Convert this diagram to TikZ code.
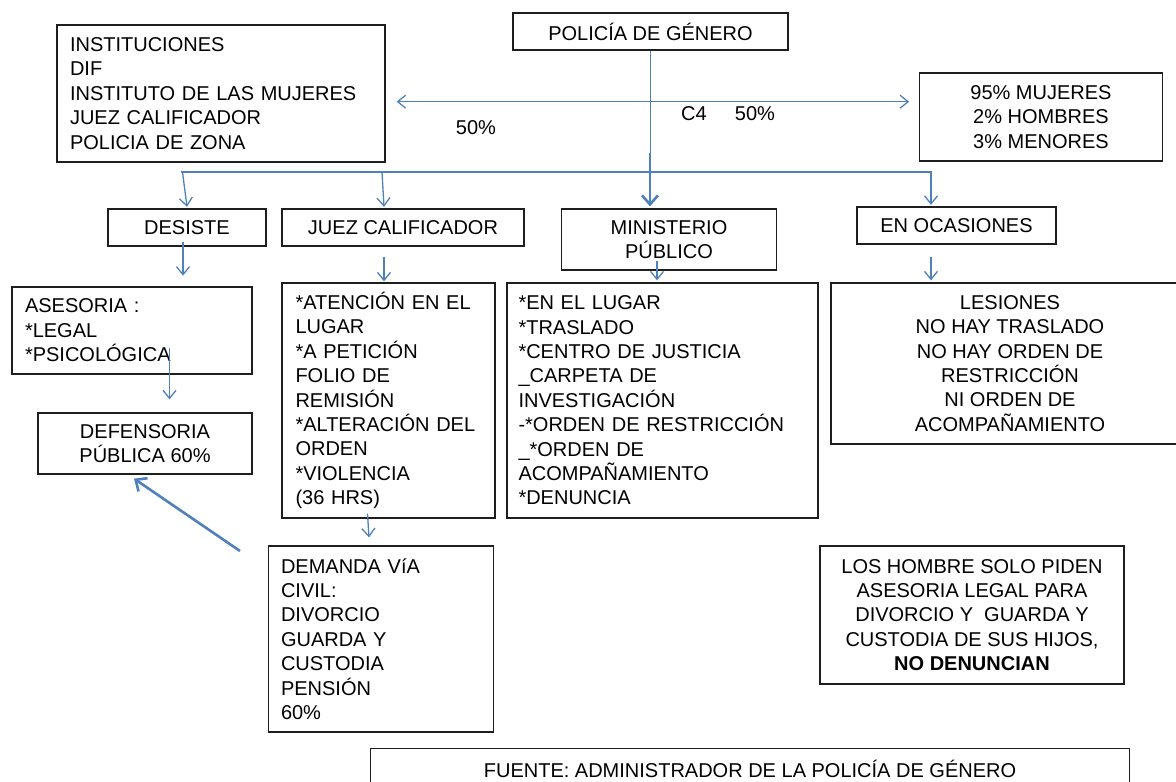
\documentclass[tikz,border=0pt]{standalone}
\usepackage{fontspec}
\setmainfont{Liberation Sans}
\usetikzlibrary{arrows.meta,calc}
\definecolor{lineblue}{RGB}{79,129,189}
\definecolor{boxline}{RGB}{30,30,30}
\begin{document}
\begin{tikzpicture}[x=1pt,y=-1pt,
  txt/.style={font=\fontsize{20}{24.4}\selectfont},
  box/.style={txt, draw=boxline, line width=1.3pt, inner ysep=0pt},
  cbox/.style={box, align=center, inner xsep=0pt},
  lbox/.style={box, align=left},
  lbl/.style={txt, inner sep=0pt},
  thinarrow/.style={draw=lineblue, line width=1.3pt, -{Straight Barb[length=8pt,width=13pt]}},
  thickarrow/.style={draw=lineblue, line width=2.6pt, -{Straight Barb[length=9pt,width=16pt]}},
  dblarrow/.style={draw=lineblue, line width=1.3pt, {Straight Barb[length=8pt,width=13pt]}-{Straight Barb[length=8pt,width=13pt]}},
  thinline/.style={draw=lineblue, line width=1.3pt},
  busline/.style={draw=lineblue, line width=2.4pt, line cap=rect}
]
\useasboundingbox (0,0) rectangle (1176,782);
\fill[white] (0,0) rectangle (1176,782);
\clip (0,0) rectangle (1176,782);

% top row
\node[cbox, minimum width=275pt, minimum height=37pt] (pol) at (650.5,31.5) {POLICÍA DE GÉNERO};
\node[lbox, minimum width=328pt, minimum height=137pt, inner xsep=13pt, text width=302pt] (inst) at (221,93.5)
  {INSTITUCIONES\\DIF\\INSTITUTO DE LAS MUJERES\\JUEZ CALIFICADOR\\POLICIA DE ZONA};
\node[cbox, minimum width=243.5pt, minimum height=88pt] (pct) at (1041,117)
  {95\% MUJERES\\2\% HOMBRES\\3\% MENORES};

% labels
\node[lbl] (l50a) at (476,128) {50\%};
\node[lbl] (c4) at (694,114) {C4};
\node[lbl] (l50b) at (755,114) {50\%};

% second row
\node[cbox, minimum width=158pt, minimum height=37pt] (desiste) at (187,227.5) {DESISTE};
\node[cbox, minimum width=242pt, minimum height=37pt] (juez) at (403,227.5) {JUEZ CALIFICADOR};
\node[cbox, minimum width=215.5pt, minimum height=61pt] (mp) at (669,239.5) {MINISTERIO\\PÚBLICO};
\node[cbox, minimum width=199pt, minimum height=37pt] (enoc) at (956.5,225.5) {EN OCASIONES};

% third row
\node[lbox, minimum width=240pt, minimum height=87pt, inner xsep=13pt, text width=214pt] (ases) at (132,330.5)
  {ASESORIA :\\{*}LEGAL\\{*}PSICOLÓGICA};
\node[cbox, minimum width=214pt, minimum height=61pt] (def) at (145,443.5)
  {DEFENSORIA\\PÚBLICA 60\%};
\node[lbox, minimum width=213pt, minimum height=235pt, inner xsep=13.5pt, text width=186pt] (juezd) at (388.5,400.5)
  {*ATENCIÓN EN EL\\LUGAR\\{*}A PETICIÓN\\FOLIO DE\\REMISIÓN\\{*}ALTERACIÓN DEL\\ORDEN\\{*}VIOLENCIA\\(36 HRS)};
\node[lbox, minimum width=311pt, minimum height=235pt, inner xsep=11.5pt, text width=288pt] (mpd) at (662.5,400.5)
  {*EN EL LUGAR\\{*}TRASLADO\\{*}CENTRO DE JUSTICIA\\\_CARPETA DE\\INVESTIGACIÓN\\-*ORDEN DE RESTRICCIÓN\\\_*ORDEN DE\\ACOMPAÑAMIENTO\\{*}DENUNCIA};
\node[cbox, minimum width=358pt, minimum height=161pt] (les) at (1010,363.5)
  {LESIONES\\NO HAY TRASLADO\\NO HAY ORDEN DE\\RESTRICCIÓN\\NI ORDEN DE\\ACOMPAÑAMIENTO};

% bottom
\node[lbox, minimum width=225pt, minimum height=186pt, inner xsep=12.5pt, text width=200pt] (dem) at (381,639)
  {DEMANDA VíA\\CIVIL:\\DIVORCIO\\GUARDA Y\\CUSTODIA\\PENSIÓN\\60\%};
\node[cbox, minimum width=304pt, minimum height=138pt] (hom) at (972,615)
  {LOS HOMBRE SOLO PIDEN\\ASESORIA LEGAL PARA\\DIVORCIO Y\ \ GUARDA Y\\CUSTODIA DE SUS HIJOS,\\\textbf{NO DENUNCIAN}};
\node[cbox, minimum width=759pt, minimum height=40pt] (fuente) at (750,768.5)
  {FUENTE: ADMINISTRADOR DE LA POLICÍA DE GÉNERO};

% connectors
\coordinate (busL) at (182.5,172);
\coordinate (busJ) at (382,172);
\coordinate (busR) at (931,172);
\coordinate (src) at (240,551);

\draw[dblarrow] ($(inst.east)+(11,8.2)$) -- ($(pct.west)+(-9.5,-15.3)$);
\draw[thinline] (pol.south) -- ($(pol.south)+(0,102)$);
\draw[busline] (busL) -- (busR);
\draw[thickarrow] ($(pol.south)+(-0.5,102)$) -- ($(pol.south |- mp.north)+(-0.5,-2)$);
\draw[thinarrow] (busL) -- ($(desiste.north)+(0,-1.5)$);
\draw[thinarrow] (busJ) -- ($(juez.north)+(-19,-1.5)$);
\draw[thinarrow] (busR) -- ($(enoc.north)+(-25.5,-1.5)$);

\draw[thinarrow] ($(desiste.south)+(-4,-5)$) -- ($(desiste.south)+(-4,29)$);
\draw[thinarrow] ($(juez.south)+(-19,10)$) -- ($(juezd.north)+(-4.5,-1)$);
\draw[thinarrow] ($(mp.south)+(-12,-10)$) -- ($(mpd.north)+(-5.5,-2)$);
\draw[thinarrow] ($(enoc.south)+(-25.5,12)$) -- ($(les.north)+(-79,-2)$);
\draw[thinarrow] ($(ases.south)+(37.5,-27)$) -- ($(def.north)+(24.5,-13)$);
\draw[thinarrow] ($(juezd.south)+(-21,-5)$) -- ($(dem.north)+(-12,-8)$);
\draw[thickarrow] (src) -- ($(def.south)+(-11,4)$);
\end{tikzpicture}
\end{document}
